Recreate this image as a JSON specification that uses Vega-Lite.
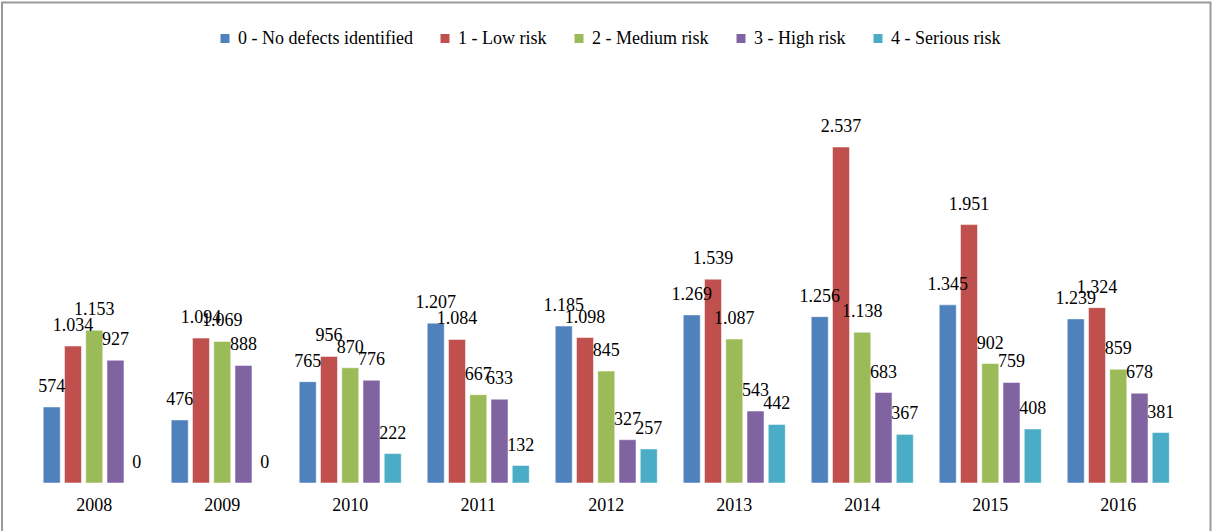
{
  "$schema": "https://vega.github.io/schema/vega-lite/v6.json",
  "autosize": {"type": "none"},
  "width": 1208.5,
  "height": 529.5,
  "padding": {"left": 2, "top": 2.5, "right": 1.5, "bottom": -1},
  "background": "white",
  "config": {
    "locale": {"number": {"decimal": ",", "thousands": ".", "grouping": [3], "currency": ["", ""]}},
    "view": {"stroke": "#9a9a9a", "strokeWidth": 2},
    "font": "'Liberation Serif', 'Times New Roman', serif"
  },
  "data": {"values": [
    {"year": "2008", "risk": "0 - No defects identified", "value": 574},
    {"year": "2008", "risk": "1 - Low risk", "value": 1034},
    {"year": "2008", "risk": "2 - Medium risk", "value": 1153},
    {"year": "2008", "risk": "3 - High risk", "value": 927},
    {"year": "2008", "risk": "4 - Serious risk", "value": 0},
    {"year": "2009", "risk": "0 - No defects identified", "value": 476},
    {"year": "2009", "risk": "1 - Low risk", "value": 1094},
    {"year": "2009", "risk": "2 - Medium risk", "value": 1069},
    {"year": "2009", "risk": "3 - High risk", "value": 888},
    {"year": "2009", "risk": "4 - Serious risk", "value": 0},
    {"year": "2010", "risk": "0 - No defects identified", "value": 765},
    {"year": "2010", "risk": "1 - Low risk", "value": 956},
    {"year": "2010", "risk": "2 - Medium risk", "value": 870},
    {"year": "2010", "risk": "3 - High risk", "value": 776},
    {"year": "2010", "risk": "4 - Serious risk", "value": 222},
    {"year": "2011", "risk": "0 - No defects identified", "value": 1207},
    {"year": "2011", "risk": "1 - Low risk", "value": 1084},
    {"year": "2011", "risk": "2 - Medium risk", "value": 667},
    {"year": "2011", "risk": "3 - High risk", "value": 633},
    {"year": "2011", "risk": "4 - Serious risk", "value": 132},
    {"year": "2012", "risk": "0 - No defects identified", "value": 1185},
    {"year": "2012", "risk": "1 - Low risk", "value": 1098},
    {"year": "2012", "risk": "2 - Medium risk", "value": 845},
    {"year": "2012", "risk": "3 - High risk", "value": 327},
    {"year": "2012", "risk": "4 - Serious risk", "value": 257},
    {"year": "2013", "risk": "0 - No defects identified", "value": 1269},
    {"year": "2013", "risk": "1 - Low risk", "value": 1539},
    {"year": "2013", "risk": "2 - Medium risk", "value": 1087},
    {"year": "2013", "risk": "3 - High risk", "value": 543},
    {"year": "2013", "risk": "4 - Serious risk", "value": 442},
    {"year": "2014", "risk": "0 - No defects identified", "value": 1256},
    {"year": "2014", "risk": "1 - Low risk", "value": 2537},
    {"year": "2014", "risk": "2 - Medium risk", "value": 1138},
    {"year": "2014", "risk": "3 - High risk", "value": 683},
    {"year": "2014", "risk": "4 - Serious risk", "value": 367},
    {"year": "2015", "risk": "0 - No defects identified", "value": 1345},
    {"year": "2015", "risk": "1 - Low risk", "value": 1951},
    {"year": "2015", "risk": "2 - Medium risk", "value": 902},
    {"year": "2015", "risk": "3 - High risk", "value": 759},
    {"year": "2015", "risk": "4 - Serious risk", "value": 408},
    {"year": "2016", "risk": "0 - No defects identified", "value": 1239},
    {"year": "2016", "risk": "1 - Low risk", "value": 1324},
    {"year": "2016", "risk": "2 - Medium risk", "value": 859},
    {"year": "2016", "risk": "3 - High risk", "value": 678},
    {"year": "2016", "risk": "4 - Serious risk", "value": 381}
  ]},
  "encoding": {
    "x": {
      "field": "year", "type": "ordinal",
      "scale": {"paddingInner": 0.203, "paddingOuter": 0.322},
      "axis": {"title": null, "orient": "bottom", "offset": -49, "domain": false, "ticks": false, "labelAngle": 0,
               "labelFontSize": 18, "labelColor": "#000", "labelPadding": 13, "labelBaseline": "top"}
    },
    "y": {
      "field": "value", "type": "quantitative",
      "scale": {"domain": [-370, 3628], "nice": false, "zero": false},
      "axis": null
    }
  },
  "layer": [
    {
      "mark": {"type": "bar", "stroke": "white", "strokeWidth": 0.5},
      "encoding": {
        "xOffset": {"field": "risk", "type": "nominal", "scale": {"paddingInner": 0.2, "paddingOuter": 0}},
        "color": {
          "field": "risk", "type": "nominal",
          "scale": {"range": ["#4F81BD", "#C0504D", "#9BBB59", "#8064A2", "#4BACC6"]},
          "legend": {
            "title": null, "orient": "none", "legendX": 214, "legendY": 27, "direction": "horizontal",
            "symbolType": "square", "symbolSize": 81, "symbolStrokeWidth": 0,
            "labelFontSize": 18, "labelColor": "#000", "labelOffset": 4, "columnPadding": 23, "labelLimit": 400
          }
        }
      }
    },
    {
      "mark": {"type": "text", "baseline": "alphabetic", "dy": -15, "fontSize": 18, "color": "#000"},
      "encoding": {
        "xOffset": {"field": "risk", "type": "nominal"},
        "text": {"field": "value", "type": "quantitative", "format": ",d"}
      }
    },
    {
      "data": {"values": [{"v": 0}]},
      "mark": {"type": "rule", "color": "#9a9a9a", "strokeWidth": 1.5},
      "encoding": {
        "x": {"datum": "2008", "type": "ordinal", "bandPosition": -0.12},
        "x2": {"datum": "2016", "bandPosition": 1.125},
        "y": {"datum": 0, "type": "quantitative"}
      }
    }
  ]
}
